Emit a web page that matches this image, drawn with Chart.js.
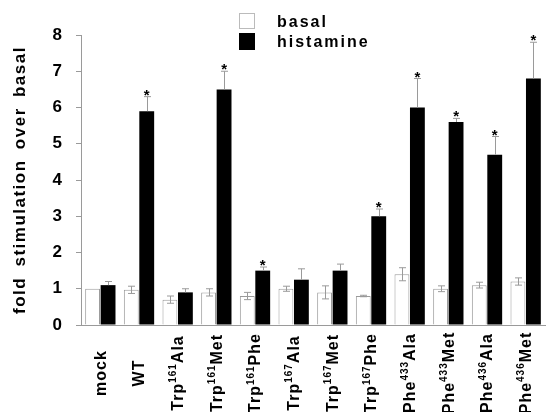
<!DOCTYPE html>
<html>
<head>
<meta charset="utf-8">
<script src="https://cdn.jsdelivr.net/npm/chart.js@4.4.0/dist/chart.umd.min.js"></script>
<style>
  html, body { margin: 0; padding: 0; background: #fff; }
</style>
</head>
<body>
<canvas id="myChart" width="546" height="412"></canvas>
<script>
// data
const categories = ['mock', 'WT', 'Trp161Ala', 'Trp161Met', 'Trp161Phe', 'Trp167Ala', 'Trp167Met', 'Trp167Phe', 'Phe433Ala', 'Phe433Met', 'Phe436Ala', 'Phe436Met']
const basal = [1.0, 0.97, 0.7, 0.9, 0.8, 1.0, 0.9, 0.8, 1.4, 1.0, 1.1, 1.2]
const basalErr = [0, 0.1, 0.1, 0.1, 0.1, 0.07, 0.18, 0.02, 0.18, 0.08, 0.08, 0.1]
const histamine = [1.1, 5.9, 0.9, 6.5, 1.5, 1.25, 1.5, 3.0, 6.0, 5.6, 4.7, 6.8]
const histamineErr = [0.1, 0.4, 0.1, 0.5, 0.1, 0.3, 0.18, 0.2, 0.8, 0.1, 0.5, 1.0]
const significant = [false, true, false, true, true, false, false, true, true, true, true, true]
const yTicks = [0, 1, 2, 3, 4, 5, 6, 7, 8]
const yTitle = 'fold stimulation over basal'

const FONT = '"Liberation Sans", Arial, sans-serif'
const GREY = '#9a9a9a'

// error bars, stars, rotated category labels, legend, y title
const decorations = {
  id: 'decorations',
  afterDatasetsDraw(chart) {
    const { ctx, scales: { y } } = chart
    const errs = [basalErr, histamineErr]
    ctx.save()
    ctx.strokeStyle = GREY
    ctx.lineWidth = 1
    errs.forEach((errArr, d) => {
      const meta = chart.getDatasetMeta(d)
      const vals = chart.data.datasets[d].data
      meta.data.forEach((bar, i) => {
        const e = errArr[i]
        if (!e) return
        const x = Math.round(bar.x) + 0.5
        const top = y.getPixelForValue(vals[i] + e)
        const bottom = d === 0 ? y.getPixelForValue(vals[i] - e) : y.getPixelForValue(vals[i])
        ctx.beginPath()
        ctx.moveTo(x, bottom)
        ctx.lineTo(x, top)
        ctx.moveTo(x - 3.5, top)
        ctx.lineTo(x + 3.5, top)
        if (d === 0) {
          ctx.moveTo(x - 3.5, bottom)
          ctx.lineTo(x + 3.5, bottom)
        }
        ctx.stroke()
      })
    })
    // significance stars
    ctx.fillStyle = '#000'
    ctx.font = 'bold 15px ' + FONT
    ctx.textAlign = 'center'
    ctx.textBaseline = 'alphabetic'
    const hMeta = chart.getDatasetMeta(1)
    hMeta.data.forEach((bar, i) => {
      if (!significant[i]) return
      const top = y.getPixelForValue(histamine[i] + histamineErr[i])
      ctx.fillText('*', bar.x, top + 3)
    })
    ctx.restore()
  },
  afterDraw(chart) {
    const { ctx, scales: { x }, chartArea } = chart
    ctx.save()
    ctx.fillStyle = '#000'
    ctx.textBaseline = 'middle'
    ctx.textAlign = 'left'
    // category labels, rotated, with superscript residue numbers
    categories.forEach((label, i) => {
      const m = label.match(/^(\D+)(\d+)(\D+)$/)
      const parts = m ? [[m[1], 16, 0], [m[2], 10, -5], [m[3], 16, 0]] : [[label, 16, 0]]
      ctx.letterSpacing = '1px'
      let total = 0
      parts.forEach(p => {
        ctx.font = 'bold ' + p[1] + 'px ' + FONT
        total += ctx.measureText(p[0]).width
      })
      ctx.save()
      ctx.translate(x.getPixelForValue(i) + 1, 373)
      ctx.rotate(-Math.PI / 2)
      let cx = -total / 2
      parts.forEach(p => {
        ctx.font = 'bold ' + p[1] + 'px ' + FONT
        ctx.fillText(p[0], cx, p[2])
        cx += ctx.measureText(p[0]).width
      })
      ctx.restore()
    })
    // y axis title
    ctx.save()
    ctx.translate(20, (chartArea.top + chartArea.bottom) / 2)
    ctx.rotate(-Math.PI / 2)
    ctx.font = 'bold 17px ' + FONT
    ctx.letterSpacing = '1.5px'
    ctx.wordSpacing = '4px'
    ctx.textAlign = 'center'
    ctx.fillText(yTitle, 0, 0)
    ctx.restore()
    // legend
    ctx.letterSpacing = '2px'
    ctx.font = 'bold 16px ' + FONT
    ctx.textBaseline = 'alphabetic'
    chart.data.datasets.forEach((ds, d) => {
      const by = d === 0 ? 13 : 33
      const bh = d === 0 ? 16 : 17
      ctx.fillStyle = ds.backgroundColor
      ctx.fillRect(239, by, 16, bh)
      if (d === 0) {
        ctx.strokeStyle = '#bbb'
        ctx.strokeRect(239.5, by + 0.5, 15, bh - 1)
      }
      ctx.fillStyle = '#000'
      ctx.fillText(ds.label, 277, d === 0 ? 27 : 47)
    })
    ctx.restore()
  }
}

const ctx = document.getElementById('myChart').getContext('2d')
new Chart(ctx, {
  type: 'bar',
  data: {
    labels: categories,
    datasets: [
      { label: 'basal', data: basal, backgroundColor: '#ffffff', borderColor: GREY, borderWidth: 1 },
      { label: 'histamine', data: histamine, backgroundColor: '#000000', borderWidth: 0 }
    ]
  },
  options: {
    responsive: false,
    animation: false,
    devicePixelRatio: 1,
    categoryPercentage: 0.8,
    barPercentage: 0.96,
    layout: { padding: { top: 35, right: 1, left: 0, bottom: 0 } },
    plugins: { legend: { display: false }, tooltip: { enabled: false } },
    scales: {
      x: {
        grid: { display: false, drawTicks: false },
        border: { color: GREY },
        ticks: { display: false },
        afterFit(s) { s.height = 87 }
      },
      y: {
        min: 0,
        max: 8,
        afterBuildTicks(s) { s.ticks = yTicks.map(v => ({ value: v })) },
        ticks: { color: '#000', padding: 14, font: { family: FONT, size: 17, weight: 'bold' } },
        grid: { drawOnChartArea: false, tickLength: 5, color: GREY },
        border: { color: GREY },
        afterFit(s) { s.width = 81 }
      }
    }
  },
  plugins: [decorations]
})
</script>
</body>
</html>
